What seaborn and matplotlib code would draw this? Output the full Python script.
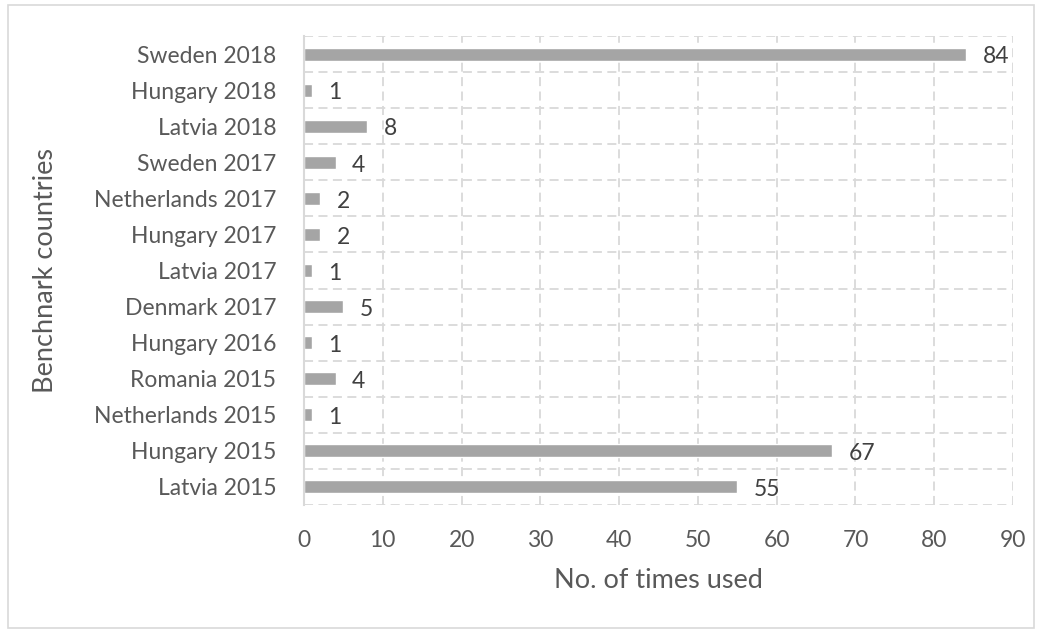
import matplotlib
matplotlib.use("Agg")
import matplotlib.pyplot as plt
from matplotlib.patches import Rectangle
import seaborn as sns
import pandas as pd
import numpy as np

countries = ["Sweden 2018", "Hungary 2018", "Latvia 2018", "Sweden 2017",
             "Netherlands 2017", "Hungary 2017", "Latvia 2017", "Denmark 2017",
             "Hungary 2016", "Romania 2015", "Netherlands 2015", "Hungary 2015",
             "Latvia 2015"]
times_used = [84, 1, 8, 4, 2, 2, 1, 5, 1, 4, 1, 67, 55]
x_ticks = [0, 10, 20, 30, 40, 50, 60, 70, 80, 90]

sns.set_theme(style="white")
plt.rcParams["font.family"] = ["Lato", "DejaVu Sans"]

text_col = "#595959"
grid_col = "#D9D9D9"

df = pd.DataFrame({"country": countries, "used": times_used})

fig = plt.figure(figsize=(10.44, 6.33), dpi=100)
ax = fig.add_axes([0.2912, 0.2022, 0.6791, 0.7409])

sns.barplot(data=df, x="used", y="country", order=countries, color="#A5A5A5",
            saturation=1, width=0.36, ax=ax, orient="h")

ax.set_xlim(0, 90)
ax.set_ylim(len(countries) - 0.5, -0.5)
ax.set_xticks(x_ticks)
ax.set_xticklabels([str(t) for t in x_ticks])

# dashed grid: vertical at value ticks, horizontal between categories
ax.set_yticks(np.arange(-0.5, len(countries)), minor=True)
ax.grid(axis="x", which="major", color=grid_col, linestyle=(0, (5, 3)), linewidth=1.3)
ax.grid(axis="y", which="minor", color=grid_col, linestyle=(0, (5, 3)), linewidth=1.3)
ax.grid(axis="y", which="major", visible=False)
ax.set_axisbelow(True)

for side in ["top", "right", "bottom"]:
    ax.spines[side].set_visible(False)
ax.spines["left"].set_color(grid_col)
ax.spines["left"].set_linewidth(1.5)

ax.tick_params(axis="both", which="both", length=0, colors=text_col, labelsize=16.5)
ax.tick_params(axis="x", pad=18)
ax.tick_params(axis="y", pad=20)

for i, v in enumerate(times_used):
    ax.annotate(str(v), xy=(v, i), xytext=(12, -2), textcoords="offset points",
                va="center", ha="left", fontsize=16.5, color="#404040")

ax.set_xlabel("No. of times used", fontsize=19.5, color=text_col, labelpad=12)
ax.set_ylabel("Benchnark countries", fontsize=19.5, color=text_col, labelpad=26)

fig.patches.append(Rectangle((8 / 1044, 1 - 628 / 633), 1026 / 1044, 623 / 633,
                             transform=fig.transFigure, fill=False,
                             edgecolor=grid_col, linewidth=1.2))

fig.savefig("out.png", dpi=100)
